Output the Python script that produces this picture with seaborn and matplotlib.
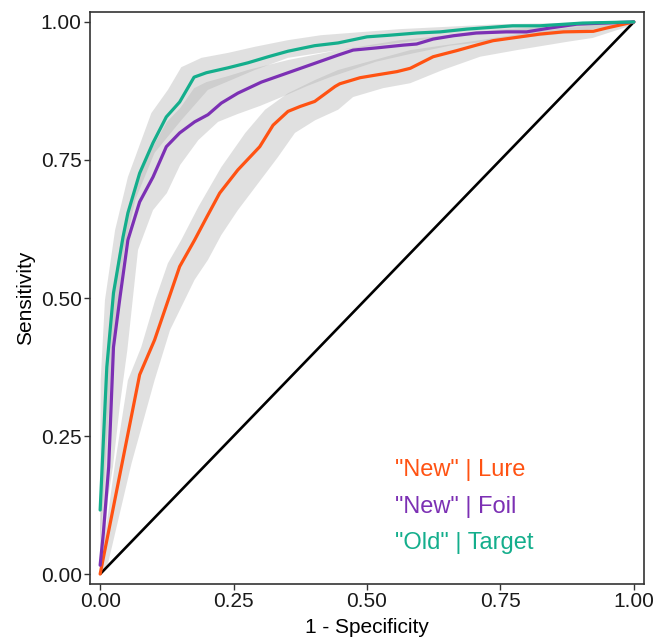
import numpy as np
import pandas as pd
import matplotlib
matplotlib.use("Agg")
import matplotlib.pyplot as plt
import seaborn as sns

# ---- data ----
series_names = ['"New" | Lure', '"New" | Foil', '"Old" | Target']
series_colors = ["#FF5212", "#7C30B4", "#14AE8C"]

# "New" | Lure
lure_fpr = [0, 0.074, 0.102, 0.149, 0.177, 0.200, 0.224, 0.258, 0.299, 0.324, 0.352, 0.375,
            0.402, 0.440, 0.449, 0.487, 0.518, 0.556, 0.581, 0.624, 0.668, 0.705, 0.736,
            0.780, 0.824, 0.868, 0.924, 0.949, 1.0]
lure_tpr = [0, 0.361, 0.424, 0.557, 0.605, 0.647, 0.690, 0.732, 0.774, 0.813, 0.838, 0.847,
            0.856, 0.883, 0.888, 0.899, 0.904, 0.910, 0.916, 0.937, 0.948, 0.958, 0.966,
            0.972, 0.978, 0.982, 0.983, 0.989, 1.0]
lure_up_x = [0, 0.002, 0.028, 0.052, 0.077, 0.103, 0.127, 0.152, 0.184, 0.227, 0.272, 0.309,
             0.352, 0.403, 0.446, 0.581, 0.712, 0.824, 0.936, 1.0]
lure_up_y = [0.007, 0.020, 0.201, 0.351, 0.411, 0.496, 0.563, 0.605, 0.665, 0.737, 0.799, 0.841,
             0.871, 0.895, 0.913, 0.949, 0.967, 0.984, 0.995, 1.0]
lure_lo_x = [0, 0.015, 0.059, 0.102, 0.131, 0.177, 0.202, 0.227, 0.258, 0.301, 0.333, 0.365,
             0.403, 0.446, 0.474, 0.530, 0.581, 0.642, 0.712, 0.781, 0.875, 0.923, 0.987, 1.0]
lure_lo_y = [0, 0.020, 0.201, 0.351, 0.442, 0.533, 0.569, 0.614, 0.659, 0.714, 0.755, 0.799,
             0.822, 0.841, 0.864, 0.880, 0.889, 0.913, 0.937, 0.949, 0.964, 0.971, 0.991, 1.0]

# "New" | Foil
foil_fpr = [0, 0.006, 0.016, 0.025, 0.037, 0.052, 0.074, 0.099, 0.124, 0.149, 0.177, 0.202,
            0.227, 0.258, 0.302, 0.352, 0.402, 0.446, 0.474, 0.518, 0.568, 0.593, 0.624,
            0.662, 0.705, 0.761, 0.799, 0.843, 0.893, 1.0]
foil_tpr = [0.016, 0.074, 0.194, 0.411, 0.500, 0.605, 0.674, 0.719, 0.774, 0.799, 0.819, 0.832,
            0.853, 0.871, 0.891, 0.908, 0.925, 0.940, 0.949, 0.953, 0.958, 0.960, 0.969,
            0.975, 0.980, 0.982, 0.982, 0.989, 0.996, 1.0]
foil_up_x = [0, 0.002, 0.007, 0.015, 0.024, 0.039, 0.052, 0.075, 0.099, 0.125, 0.150, 0.176,
             0.199, 0.240, 0.277, 0.352, 0.446, 0.562, 0.749, 1.0]
foil_up_y = [0.080, 0.134, 0.261, 0.388, 0.514, 0.605, 0.659, 0.723, 0.774, 0.819, 0.844, 0.880,
             0.891, 0.902, 0.913, 0.931, 0.949, 0.967, 0.986, 1.0]
foil_lo_x = [0, 0.006, 0.015, 0.024, 0.037, 0.051, 0.071, 0.099, 0.125, 0.150, 0.184, 0.221,
             0.257, 0.300, 0.350, 0.388, 0.431, 0.517, 0.581, 0.655, 0.749, 0.861, 0.936, 1.0]
foil_lo_y = [0, 0.025, 0.139, 0.194, 0.306, 0.406, 0.587, 0.659, 0.690, 0.741, 0.786, 0.819,
             0.833, 0.848, 0.868, 0.884, 0.900, 0.928, 0.942, 0.957, 0.967, 0.978, 0.989, 1.0]

# "Old" | Target
targ_fpr = [0, 0.0125, 0.025, 0.043, 0.052, 0.074, 0.099, 0.124, 0.149, 0.176, 0.199, 0.240,
            0.277, 0.315, 0.352, 0.402, 0.446, 0.500, 0.543, 0.594, 0.637, 0.687, 0.773,
            0.824, 0.904, 1.0]
targ_tpr = [0.116, 0.375, 0.509, 0.611, 0.654, 0.726, 0.781, 0.828, 0.855, 0.900, 0.908, 0.917,
            0.926, 0.937, 0.947, 0.957, 0.962, 0.973, 0.976, 0.980, 0.982, 0.987, 0.993,
            0.993, 0.998, 1.0]
targ_up_x = [0, 0.001, 0.009, 0.028, 0.052, 0.096, 0.127, 0.152, 0.190, 0.240, 0.290, 0.352,
             0.414, 0.562, 0.749, 1.0]
targ_up_y = [0.125, 0.351, 0.496, 0.623, 0.719, 0.835, 0.877, 0.918, 0.935, 0.944, 0.955, 0.967,
             0.976, 0.987, 0.996, 1.0]
targ_lo_x = [0, 0.006, 0.015, 0.028, 0.045, 0.066, 0.102, 0.152, 0.202, 0.290, 0.352, 0.446,
             0.637, 0.824, 1.0]
targ_lo_y = [0.062, 0.134, 0.279, 0.442, 0.587, 0.678, 0.763, 0.822, 0.877, 0.913, 0.935, 0.949,
             0.971, 0.986, 1.0]

chance = [0.0, 1.0]
tick_vals = [0.0, 0.25, 0.5, 0.75, 1.0]
tick_labels = ["0.00", "0.25", "0.50", "0.75", "1.00"]

# ---- build table ----
df = pd.concat([
    pd.DataFrame({"fpr": lure_fpr, "tpr": lure_tpr, "cond": series_names[0]}),
    pd.DataFrame({"fpr": foil_fpr, "tpr": foil_tpr, "cond": series_names[1]}),
    pd.DataFrame({"fpr": targ_fpr, "tpr": targ_tpr, "cond": series_names[2]}),
], ignore_index=True)

bands = [
    (lure_up_x, lure_up_y, lure_lo_x, lure_lo_y),
    (foil_up_x, foil_up_y, foil_lo_x, foil_lo_y),
    (targ_up_x, targ_up_y, targ_lo_x, targ_lo_y),
]

sns.set_theme(style="ticks")
plt.rcParams["font.family"] = ["Liberation Sans", "DejaVu Sans"]

fig = plt.figure(figsize=(6.65, 6.41), dpi=100)
ax = fig.add_axes([90 / 665, 57 / 641, 554 / 665, 572 / 641])

# confidence ribbons
for ux, uy, lx, ly in bands:
    px = list(ux) + list(lx[::-1])
    py = list(uy) + list(ly[::-1])
    ax.fill(px, py, facecolor=(0.70, 0.70, 0.70), alpha=0.4, edgecolor="none", zorder=1)

# chance line
ax.plot(chance, chance, color="black", lw=1.9, zorder=2, solid_capstyle="butt")

sns.lineplot(data=df, x="fpr", y="tpr", hue="cond", hue_order=series_names,
             palette=series_colors, sort=False, estimator=None, lw=2.3,
             legend=False, ax=ax, zorder=3)

# legend-like annotations
for name, col, yy in zip(series_names, series_colors, [0.178, 0.111, 0.046]):
    ax.text(0.552, yy, name, color=col, fontsize=17, ha="left", va="baseline")

ax.set_xlim(-0.019, 1.019)
ax.set_ylim(-0.018, 1.018)
ax.set_xticks(tick_vals)
ax.set_xticklabels(tick_labels)
ax.set_yticks(tick_vals)
ax.set_yticklabels(tick_labels)
ax.tick_params(axis="both", labelsize=15, length=4, width=1.0, color="#333333",
               labelcolor="#1a1a1a", pad=2)
for sp in ax.spines.values():
    sp.set_visible(True)
    sp.set_color("#333333")
    sp.set_linewidth(1.2)
ax.set_xlabel("1 - Specificity", fontsize=15, color="black", labelpad=5)
ax.set_ylabel("Sensitivity", fontsize=15, color="black", labelpad=4)

fig.savefig("out.png", dpi=100)
